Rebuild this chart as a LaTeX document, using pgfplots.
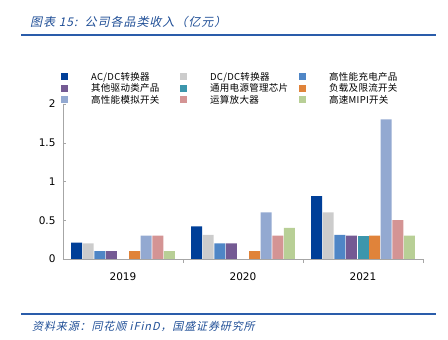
\documentclass[border=0pt]{standalone}
\usepackage{fontspec}
\setmainfont{DejaVu Sans}
\newfontfamily\cjk{Noto Sans CJK SC}[LetterSpace=3]
\newfontfamily\cjkit{Noto Sans CJK SC}[FakeSlant=0.22,LetterSpace=8]
\usepackage{pgfplots}
\pgfplotsset{compat=1.18}
\definecolor{cA}{HTML}{003F98}
\definecolor{cB}{HTML}{CCCCCC}
\definecolor{cC}{HTML}{4F86C6}
\definecolor{cD}{HTML}{745A93}
\definecolor{cE}{HTML}{3C96AC}
\definecolor{cF}{HTML}{E0833A}
\definecolor{cG}{HTML}{93A9D1}
\definecolor{cH}{HTML}{D49494}
\definecolor{cI}{HTML}{B8CF96}
\definecolor{tblue}{HTML}{1F4E96}
\definecolor{lblue}{HTML}{2A5CAA}
\begin{document}
\begin{tikzpicture}
\path[use as bounding box] (0pt,0pt) rectangle (448pt,340pt);
\node[anchor=west,text=tblue,font=\cjkit\fontsize{12}{13}\selectfont,inner sep=0] at (30pt,318pt) {图表 15:\ \ 公司各品类收入（亿元）};
\draw[lblue,line width=1.5pt] (21pt,305pt) -- (436pt,305pt);
\draw[lblue,line width=1.2pt] (21pt,26pt) -- (436pt,26pt);
\node[anchor=west,text=tblue,font=\cjkit\fontsize{11}{12}\selectfont,inner sep=0] at (32pt,14pt) {资料来源：同花顺 iFinD，国盛证券研究所};
\begin{axis}[
  at={(63pt,81pt)}, anchor=south west,
  scale only axis, width=360pt, height=155pt,
  xmin=-0.5, xmax=2.5, ymin=0, ymax=2,
  axis x line=bottom, axis y line=left,
  axis line style={draw=gray!70,-},
  ybar=0.6pt, bar width=11pt,
  xtick={0,1,2}, xticklabels={2019,2020,2021},
  minor xtick={0.5,1.5,2.5},
  ytick={0,0.5,1,1.5,2},
  major x tick style={draw=none},
  minor x tick style={draw=gray!70},
  minor tick length=4pt,
  x tick label style={yshift=-7pt},
  y tick label style={xshift=-4pt},
  xtick align=outside,
  major tick length=3pt,
  ytick align=inside,
  y tick style={draw=gray!70},
  tick label style={font=\fontsize{10.5}{12}\selectfont},
  /pgf/number format/assume math mode=true,
  legend columns=3,
  legend cell align=left,
  legend style={at={(-0.014,1.226)}, anchor=north west, draw=none, fill=none,
    font=\cjk\fontsize{9.5}{10}\selectfont,
    nodes={inner xsep=0pt, inner ysep=1pt, text width=89pt, align=left},
    /tikz/every odd column/.append style={column sep=23pt},
    /tikz/every even column/.append style={column sep=0pt}},
  legend image code/.code={\fill[#1] (0pt,-3.5pt) rectangle (7pt,3.5pt);},
]
\addplot[fill=cA,draw=none] coordinates {(0,0.21) (1,0.42) (2,0.81)};
\addlegendentry{AC/DC转换器}
\addplot[fill=cB,draw=none] coordinates {(0,0.20) (1,0.31) (2,0.60)};
\addlegendentry{DC/DC转换器}
\addplot[fill=cC,draw=none] coordinates {(0,0.10) (1,0.20) (2,0.31)};
\addlegendentry{高性能充电产品}
\addplot[fill=cD,draw=none] coordinates {(0,0.10) (1,0.20) (2,0.30)};
\addlegendentry{其他驱动类产品}
\addplot[fill=cE,draw=none] coordinates {(2,0.30)};
\addlegendentry{通用电源管理芯片}
\addplot[fill=cF,draw=none] coordinates {(0,0.10) (1,0.10) (2,0.30)};
\addlegendentry{负载及限流开关}
\addplot[fill=cG,draw=none] coordinates {(0,0.30) (1,0.60) (2,1.80)};
\addlegendentry{高性能模拟开关}
\addplot[fill=cH,draw=none] coordinates {(0,0.30) (1,0.30) (2,0.50)};
\addlegendentry{运算放大器}
\addplot[fill=cI,draw=none] coordinates {(0,0.10) (1,0.40) (2,0.30)};
\addlegendentry{高速MIPI开关}
\end{axis}
\end{tikzpicture}
\end{document}
